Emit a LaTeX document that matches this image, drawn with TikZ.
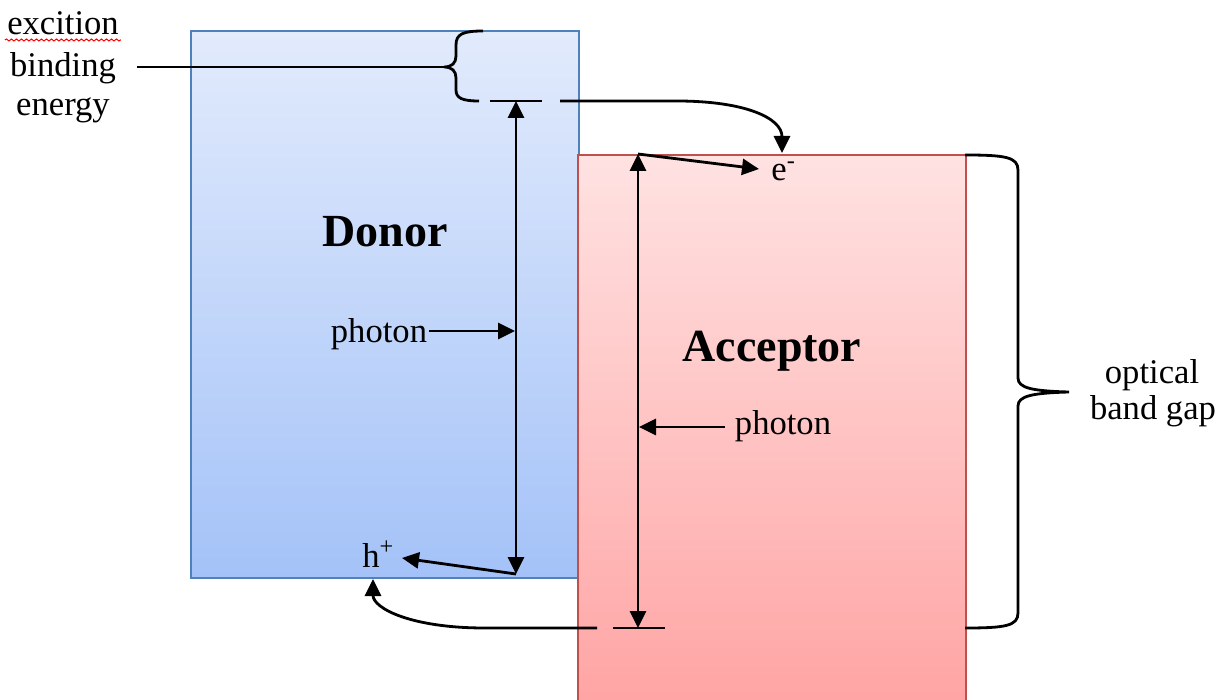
\documentclass[tikz,border=0pt]{standalone}
\usepackage{fontspec}
\setmainfont{Liberation Serif}
\usetikzlibrary{arrows.meta,decorations.pathmorphing}
\definecolor{donortop}{RGB}{226,235,252}
\definecolor{donorbot}{RGB}{164,194,248}
\definecolor{donorline}{RGB}{79,129,189}
\definecolor{acctop}{RGB}{255,226,226}
\definecolor{accbot}{RGB}{255,164,164}
\definecolor{accline}{RGB}{192,80,77}
\begin{document}
\begin{tikzpicture}[x=0.5pt,y=-0.5pt,
  conn/.style={line width=1.4pt,black},
  tip/.style={-{Triangle[length=8.5pt,width=8pt]}},
  tips/.style={{Triangle[length=8.5pt,width=8pt]}-{Triangle[length=8.5pt,width=8pt]}},
  lbl/.style={font=\fontsize{17.3}{20}\selectfont, inner sep=0pt},
  big/.style={font=\fontsize{23}{27}\selectfont\bfseries, inner sep=0pt},
  band/.style={anchor=north west, inner sep=0pt, line width=1pt, minimum width=194pt}
  ]
\useasboundingbox (0,0) rectangle (1220,700);

% boxes
\node[band, draw=donorline, top color=donortop, bottom color=donorbot,
      minimum height=273.5pt] (donor) at (190,30) {};
\node[band, draw=accline, top color=acctop, bottom color=accbot,
      minimum height=275pt] (acceptor) at (577,154) {};

% big labels
\node[big, anchor=base] (dlabel) at (385,247) {Donor};
\node[big, anchor=base] (alabel) at (772,361) {Acceptor};

% exciton binding energy label
\node[lbl, anchor=base] (ex1) at (63,35) {excition};
\node[lbl, anchor=base] (ex2) at (63,77) {binding};
\node[lbl, anchor=base] (ex3) at (63,116) {energy};
\draw[red, line width=0.5pt, decorate,
      decoration={snake, amplitude=0.5pt, segment length=2.5pt}]
  (ex1.base west) ++(-2,5) coordinate (w1) -- ++(116,0) coordinate (w2);

% coordinates
\coordinate (lineStart) at (137,67);
\coordinate (braceTip) at (444,67);
\coordinate (dTop) at (516,101);
\coordinate (dBot) at (516,574);
\coordinate (dPh) at (515,331);
\coordinate (aTop) at (638,154);
\coordinate (aBot) at (638,628);
\coordinate (aPh) at (639,427);

% brace for binding energy
\draw[conn] (483,31) .. controls (463,31) and (456,34) .. (456,45) -- (456,56)
  .. controls (456,63) and (452,67) .. (braceTip)
  .. controls (452,67) and (456,71) .. (456,78) -- (456,90)
  .. controls (456,98) and (462,101) .. (479,101);
\draw[conn] (lineStart) -- (braceTip);

% donor LUMO level dashes
\draw[conn] (490,101) -- (542,101);
\draw[conn, tip] (560,101) -- (677,101) .. controls (745,101) and (782,118) .. (782,153);

% donor vertical transition
\draw[conn, tips] (dBot) -- (dTop);
\node[lbl, anchor=base] (ph1) at (379,342) {photon};
\draw[conn, tip] (ph1.east |- dPh) ++(2,0) -- (dPh);

% h+
\node[lbl, anchor=base west] (hplus) at (362,567) {h\textsuperscript{+}};
\draw[conn, tip] (dBot) -- (402,558);

% acceptor vertical transition
\draw[conn, tips] (aBot) -- (aTop);
\node[lbl, anchor=base] (ph2) at (783,434) {photon};
\draw[conn, tip] (725,427) -- (aPh);

% e-
\node[lbl, anchor=base west] (eminus) at (771,181) {e\textsuperscript{-}};
\draw[conn, tip] (aTop) -- (759,169);

% acceptor HOMO level dashes
\draw[conn] (613,628) -- (665,628);
\draw[conn, tip] (597,628) -- (485,628) .. controls (410,628) and (373,608) .. (373,579);

% optical band gap brace
\coordinate (gapTip) at (1069,392);
\draw[conn] (965,155) .. controls (1005,155) and (1018,157) .. (1018,170) -- (1018,378)
  .. controls (1018,388) and (1032,391) .. (gapTip)
  .. controls (1032,393) and (1018,396) .. (1018,406) -- (1018,613)
  .. controls (1018,626) and (1005,628) .. (965,628);
\node[lbl, anchor=base] (og1) at (1152,383) {optical};
\node[lbl, anchor=base] (og2) at (1153,419) {band gap};
\end{tikzpicture}
\end{document}
